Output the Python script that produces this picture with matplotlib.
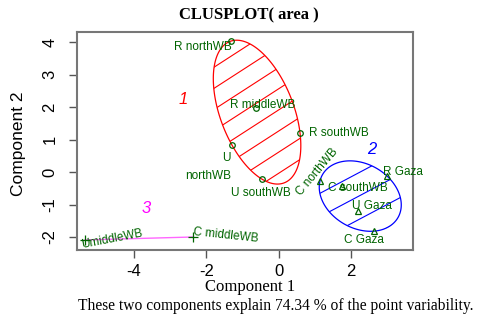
import numpy as np
import matplotlib
matplotlib.use("Agg")
import matplotlib.pyplot as plt
from matplotlib.patches import Polygon

# 数据：两个主成分上的坐标
names = ["R northWB", "R middleWB", "R southWB", "U\nnorthWB", "U southWB",
         "C northWB", "C southWB", "R Gaza", "U Gaza", "C Gaza",
         "UmiddleWB", "C middleWB"]
comp1 = [-1.32, -0.63, 0.59, -1.29, -0.46, 1.14, 1.75, 2.99, 2.19, 2.63, -5.35, -2.37]
comp2 = [4.03, 1.97, 1.20, 0.83, -0.22, -0.28, -0.43, -0.12, -1.20, -1.82, -2.09, -2.00]
cluster = [1, 1, 1, 1, 1, 2, 2, 2, 2, 2, 3, 3]
x_ticks = [-4, -2, 0, 2]
y_ticks = [-2, -1, 0, 1, 2, 3, 4]

clus_col = {1: "#FF0000", 2: "#0000FF", 3: "#FF00FF"}
clus_marker = {1: "o", 2: "^", 3: "+"}
clus_num_pos = {1: (-2.64, 2.24), 2: (2.56, 0.68), 3: (-3.67, -1.11)}
# 标签相对点的偏移（像素）和旋转角度
label_off = {
    "R northWB": (-28, -6, 0), "R middleWB": (7, 3, 0), "R southWB": (39, 0, 0),
    "U\nnorthWB": (-1, -22, 0), "U southWB": (-1, -14, 0), "C northWB": (-3, 9, 50),
    "C southWB": (16, -2, 0), "R Gaza": (16, 4, 0), "U Gaza": (14, 5, 0),
    "C Gaza": (-10, -9, 0), "UmiddleWB": (27, 1, 11), "C middleWB": (33, 2, -6),
}
hatch = {1: (0.72, 0.65, -1.78, 2.58), 2: (0.59, 0.72, 1.20, -0.62)}


# 最小覆盖椭圆 (Khachiyan)
def mvee(P, tol=1e-9):
    N, d = P.shape
    Q = np.vstack([P.T, np.ones(N)])
    u = np.ones(N) / N
    for _ in range(20000):
        X = Q @ np.diag(u) @ Q.T
        M = np.einsum("ij,ji->i", Q.T @ np.linalg.inv(X), Q)
        j = np.argmax(M)
        step = (M[j] - d - 1) / ((d + 1) * (M[j] - 1))
        new_u = (1 - step) * u
        new_u[j] += step
        if np.linalg.norm(new_u - u) < tol:
            u = new_u
            break
        u = new_u
    c = P.T @ u
    A = np.linalg.inv(P.T @ np.diag(u) @ P - np.outer(c, c)) / d
    w, V = np.linalg.eigh(A)
    t = np.linspace(0, 2 * np.pi, 200)
    pts = c[:, None] + V @ (np.diag(1 / np.sqrt(w)) @ np.vstack([np.cos(t), np.sin(t)]))
    return pts.T


fig = plt.figure(figsize=(4.85, 3.27), dpi=100)
ax = fig.add_axes([77 / 485, 1 - 250 / 327, 336 / 485, 218 / 327])
ax.set_xlim(-5.57, 3.71)
ax.set_ylim(-2.40, 4.31)

x = np.array(comp1)
y = np.array(comp2)
cl = np.array(cluster)

for k in [1, 2, 3]:
    P = np.column_stack([x[cl == k], y[cl == k]])
    if len(P) > 2:
        pts = mvee(P)
        poly = Polygon(pts, closed=True, fill=False, edgecolor=clus_col[k], lw=0.9)
        ax.add_patch(poly)
        slope, gap, x0, y0 = hatch[k]
        xs = np.array([-6, 5])
        for i in range(-12, 13):
            ln, = ax.plot(xs, y0 + slope * (xs - x0) + i * gap, color=clus_col[k], lw=0.8)
            ln.set_clip_path(poly)
    else:
        ax.plot(P[:, 0], P[:, 1], color=clus_col[k], lw=1.0, alpha=0.6)
    ax.text(*clus_num_pos[k], str(k), color=clus_col[k], fontsize=12, style="italic",
            family="Liberation Sans", ha="center", va="center")

for i, name in enumerate(names):
    m = clus_marker[cluster[i]]
    if m == "+":
        ax.plot(x[i], y[i], m, color="#006400", ms=7, mew=0.9)
    else:
        ax.plot(x[i], y[i], m, mfc="none", mec="#006400", ms=4, mew=0.9)
    dx, dy, rot = label_off[name]
    ax.annotate(name, (x[i], y[i]), xytext=(dx, dy), textcoords="offset pixels",
                ha="right" if name.startswith("U\n") else "center", va="center",
                ma="right", rotation=rot, color="#006400", fontsize=8.5,
                family="Liberation Sans", linespacing=1.6)

for s in ax.spines.values():
    s.set_color("#777777")
    s.set_linewidth(1.5)
ax.set_xticks(x_ticks)
ax.set_yticks(y_ticks)
ax.set_xticklabels([str(v) for v in x_ticks], family="Liberation Sans", fontsize=12)
ax.set_yticklabels([str(v) for v in y_ticks], family="Liberation Sans", fontsize=12,
                   rotation=90, va="center")
ax.tick_params(axis="both", length=6, width=1, color="#555555")
ax.tick_params(axis="x", pad=4)
ax.tick_params(axis="y", pad=8)

fig.text(19 / 485, 1 - 144 / 327, "Component 2", rotation=90, ha="center", va="center",
         family="Liberation Sans", fontsize=12.5)
fig.text(250 / 485, 1 - 287 / 327, "Component 1", ha="center", va="center",
         family="Liberation Serif", fontsize=12)
fig.text(276 / 485, 1 - 306 / 327,
         "These two components explain 74.34 % of the point variability.",
         ha="center", va="center", family="Liberation Serif", fontsize=11.2)
fig.text(249 / 485, 1 - 15 / 327, "CLUSPLOT( area )", ha="center", va="center",
         family="Liberation Serif", fontsize=12, weight="bold")

fig.savefig("out.png", dpi=100)
